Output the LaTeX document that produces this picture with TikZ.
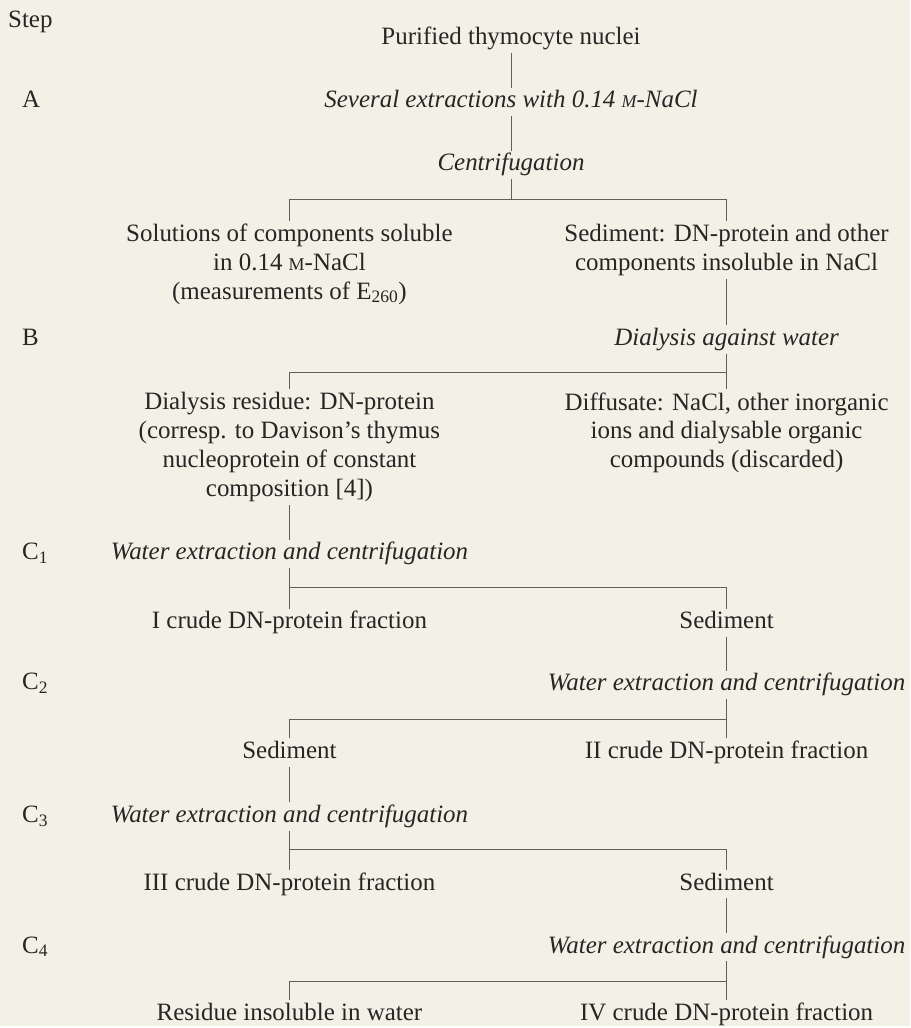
\documentclass[tikz,border=0pt]{standalone}
\usepackage{fontspec}
\setmainfont{Liberation Serif}

\definecolor{paper}{RGB}{243,240,230}
\definecolor{ink}{RGB}{40,38,36}
\definecolor{rulegray}{RGB}{95,95,92}
\newcommand{\molar}{{\fontsize{18}{18}\selectfont M}}

\tikzstyle{stage} = [inner sep=3pt, text=ink, align=center]
\tikzstyle{single} = [inner sep=3pt, text=ink, text height=17pt, text depth=5pt, anchor=base]
\tikzstyle{treat} = [single, font=\fontsize{25}{29}\selectfont\itshape]
\tikzstyle{stepname} = [inner sep=0pt, text=ink, anchor=base west]
\tikzstyle{link} = [draw=rulegray, line width=0.9pt]

\begin{document}
\begin{tikzpicture}[x=1pt, y=-1pt, font=\fontsize{25}{29}\selectfont]
\fill[paper] (0,0) rectangle (912,1028);

% step labels
\node[stepname] (lstep) at (8,28) {Step};
\node[stepname] (la) at (22,108) {A};
\node[stepname] (lb) at (22,346) {B};
\node[stepname] (lc1) at (22,561) {C\textsubscript{1}};
\node[stepname] (lc2) at (22,691) {C\textsubscript{2}};
\node[stepname] (lc3) at (22,824) {C\textsubscript{3}};
\node[stepname] (lc4) at (22,955) {C\textsubscript{4}};

% step A
\node[single] (nuclei) at (512,45) {Purified thymocyte nuclei};
\node[treat] (nacl) at (512,108) {Several extractions with 0.14 \molar-NaCl};
\node[treat] (centri) at (512,171) {Centrifugation};
\coordinate (barA) at (512,200);
\node[stage, anchor=north] (soluble) at (290,221) {Solutions of components soluble\\in 0.14 \molar-NaCl\\(measurements of E\textsubscript{260})};
\node[stage, anchor=north] (sedA) at (728,221) {Sediment: DN-protein and other\\components insoluble in NaCl};

% step B
\node[treat] (dialysis) at (728,346) {Dialysis against water};
\coordinate (barB) at (728,373);
\node[stage, anchor=north] (resid) at (290,390) {Dialysis residue: DN-protein\\(corresp. to Davison’s thymus\\nucleoprotein of constant\\composition [4])};
\node[stage, anchor=north] (diffusate) at (728,390) {Diffusate: NaCl, other inorganic\\ions and dialysable organic\\compounds (discarded)};

% step C1
\node[treat] (waterI) at (290,561) {Water extraction and centrifugation};
\coordinate (barC1) at (290,589);
\node[single] (crudeI) at (290,630) {I crude DN-protein fraction};
\node[single] (sedI) at (728,630) {Sediment};

% step C2
\node[treat] (waterII) at (728,692) {Water extraction and centrifugation};
\coordinate (barC2) at (728,721);
\node[single] (sedII) at (290,760) {Sediment};
\node[single] (crudeII) at (728,760) {II crude DN-protein fraction};

% step C3
\node[treat] (waterIII) at (290,824) {Water extraction and centrifugation};
\coordinate (barC3) at (290,851);
\node[single] (crudeIII) at (290,892) {III crude DN-protein fraction};
\node[single] (sedIII) at (728,892) {Sediment};

% step C4
\node[treat] (waterIV) at (728,955) {Water extraction and centrifugation};
\coordinate (barC4) at (728,983);
\node[single] (insol) at (290,1022) {Residue insoluble in water};
\node[single] (crudeIV) at (728,1022) {IV crude DN-protein fraction};

% connectors
\draw[link] (nuclei) -- (nacl);
\draw[link] (nacl) -- (centri);
\draw[link] (centri) -- (barA);
\draw[link] (soluble) -- (soluble |- barA) -- (sedA |- barA) -- (sedA);
\draw[link] (sedA) -- (dialysis);
\draw[link] (dialysis) -- (diffusate);
\draw[link] (resid) -- (resid |- barB) -- (barB);
\draw[link] (resid) -- (waterI);
\draw[link] (waterI) -- (crudeI);
\draw[link] (barC1) -- (sedI |- barC1) -- (sedI);
\draw[link] (sedI) -- (waterII);
\draw[link] (waterII) -- (crudeII);
\draw[link] (barC2) -- (sedII |- barC2) -- (sedII);
\draw[link] (sedII) -- (waterIII);
\draw[link] (waterIII) -- (crudeIII);
\draw[link] (barC3) -- (sedIII |- barC3) -- (sedIII);
\draw[link] (sedIII) -- (waterIV);
\draw[link] (waterIV) -- (crudeIV);
\draw[link] (barC4) -- (insol |- barC4) -- (insol);
\end{tikzpicture}
\end{document}
